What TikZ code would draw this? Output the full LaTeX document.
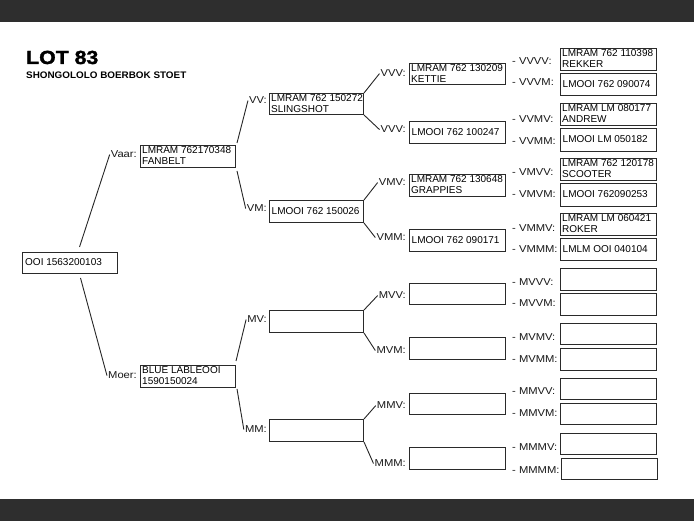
\documentclass[tikz,border=0pt]{standalone}
\usepackage{fontspec}
\setmainfont{Liberation Sans}
\newfontfamily\labfont[FakeStretch=1.12]{Liberation Sans}
\newfontfamily\titlefont[FakeStretch=1.12,FakeBold=1.6]{Liberation Sans Bold}
\newfontfamily\subfont[FakeStretch=1.04]{Liberation Sans Bold}
\usetikzlibrary{calc}
\definecolor{barcol}{HTML}{2E2E2E}
\definecolor{boxcol}{HTML}{2A2A2A}
\tikzset{
  pbox/.style={draw=boxcol, line width=1pt, anchor=north west, inner sep=0pt, fill=white},
  btxt/.style={anchor=base west, inner sep=0pt, font=\fontsize{10}{12}\selectfont, text=black},
  lab/.style={anchor=base east, inner sep=1pt, font=\labfont\fontsize{10}{12}\selectfont, text=black!90},
  labw/.style={anchor=base west, inner sep=0pt, font=\labfont\fontsize{10}{12}\selectfont, text=black!90},
  conn/.style={draw=black!85, line width=0.9pt}
}
\newcommand\pb[5]{\node[pbox, minimum width=#4pt, minimum height=#5pt] (#1) at (#2,#3) {};}
\newcommand\ptwo[3]{%
  \node[btxt] (#1a) at ($(#1.north west)+(2,9)$) {#2};
  \node[btxt] (#1b) at ($(#1.north west)+(2,20)$) {#3};}
\newcommand\pone[2]{\node[btxt] (#1a) at ($(#1.north west)+(2.5,14.5)$) {#2};}
\begin{document}
\begin{tikzpicture}[x=1pt,y=-1pt]
\useasboundingbox (0,0) rectangle (694,521);
\fill[white] (0,0) rectangle (694,521);
\fill[barcol] (0,0) rectangle (694,22);
\fill[barcol] (0,499) rectangle (694,521);
% title
\node[anchor=base west, inner sep=0pt, font=\titlefont\fontsize{19}{22}\selectfont] (title) at (26,64) {LOT 83};
\node[anchor=base west, inner sep=0pt, font=\subfont\fontsize{9.5}{11}\selectfont] (subtitle) at (26,78.5) {SHONGOLOLO BOERBOK STOET};
% boxes generation 0-2
\pb{root}{22}{252}{95}{21}
\pb{vaar}{140}{145}{95}{22}
\pb{moer}{140}{365}{95}{22}
\pb{vv}{269}{93}{94}{21}
\pb{vm}{269}{200}{94}{22}
\pb{mv}{269}{310}{94}{22}
\pb{mm}{269}{419}{94}{22}
% generation 3
\pb{vvv}{409}{63}{96}{21}
\pb{vvm}{409}{121}{96}{22}
\pb{vmv}{409}{174}{96}{22}
\pb{vmm}{409}{229}{96}{22}
\pb{mvv}{409}{283}{96}{21}
\pb{mvm}{409}{337}{96}{22}
\pb{mmv}{409}{393}{96}{21}
\pb{mmm}{409}{447}{96}{22}
% generation 4
\pb{vvvv}{560}{48}{96}{22}
\pb{vvvm}{560}{73}{96}{22}
\pb{vvmv}{560}{103}{96}{22}
\pb{vvmm}{560}{128}{96}{23}
\pb{vmvv}{560}{158}{96}{22}
\pb{vmvm}{560}{183}{96}{23}
\pb{vmmv}{560}{213}{96}{22}
\pb{vmmm}{560}{238}{96}{22}
\pb{mvvv}{560}{268}{96}{22}
\pb{mvvm}{560}{293}{96}{22}
\pb{mvmv}{560}{323}{96}{21}
\pb{mvmm}{560}{348}{96}{22}
\pb{mmvv}{560}{378}{96}{21}
\pb{mmvm}{560}{403}{96}{21}
\pb{mmmv}{560}{433}{96}{21}
\pb{mmmm}{561}{458}{96}{21}
% texts
\node[btxt] (roota) at ($(root.north west)+(3,14)$) {OOI 1563200103};
\ptwo{vaar}{LMRAM 762170348}{FANBELT}
\ptwo{moer}{BLUE LABLEOOI}{1590150024}
\ptwo{vv}{LMRAM 762 150272}{SLINGSHOT}
\pone{vm}{LMOOI 762 150026}
\ptwo{vvv}{LMRAM 762 130209}{KETTIE}
\pone{vvm}{LMOOI 762 100247}
\ptwo{vmv}{LMRAM 762 130648}{GRAPPIES}
\pone{vmm}{LMOOI 762 090171}
\ptwo{vvvv}{LMRAM 762 110398}{REKKER}
\pone{vvvm}{LMOOI 762 090074}
\ptwo{vvmv}{LMRAM LM 080177}{ANDREW}
\pone{vvmm}{LMOOI LM 050182}
\ptwo{vmvv}{LMRAM 762 120178}{SCOOTER}
\pone{vmvm}{LMOOI 762090253}
\ptwo{vmmv}{LMRAM LM 060421}{ROKER}
\pone{vmmm}{LMLM OOI 040104}
% labels generation 1-2
\node[lab] (vaarl) at (138,158) {Vaar:};
\node[lab] (moerl) at (138,379) {Moer:};
\node[lab] (vvl) at (268,104) {VV:};
\node[lab] (vml) at (268,212) {VM:};
\node[lab] (mvl) at (268,323) {MV:};
\node[lab] (mml) at (268,433) {MM:};
% labels generation 3
\node[lab] (vvvl) at (407,77) {VVV:};
\node[lab] (vvml) at (407,133) {VVV:};
\node[lab] (vmvl) at (407,186) {VMV:};
\node[lab] (vmml) at (407,241) {VMM:};
\node[lab] (mvvl) at (407,299) {MVV:};
\node[lab] (mvml) at (407,354) {MVM:};
\node[lab] (mmvl) at (407,409) {MMV:};
\node[lab] (mmml) at (407,467) {MMM:};
% labels generation 4
\node[labw] (vvvvl) at (512,65) {- VVVV:};
\node[labw] (vvvml) at (512,86) {- VVVM:};
\node[labw] (vvmvl) at (512,123) {- VVMV:};
\node[labw] (vvmml) at (512,145) {- VVMM:};
\node[labw] (vmvvl) at (512,176) {- VMVV:};
\node[labw] (vmvml) at (512,198) {- VMVM:};
\node[labw] (vmmvl) at (512,232) {- VMMV:};
\node[labw] (vmmml) at (512,253) {- VMMM:};
\node[labw] (mvvvl) at (512,286) {- MVVV:};
\node[labw] (mvvml) at (512,307) {- MVVM:};
\node[labw] (mvmvl) at (512,341) {- MVMV:};
\node[labw] (mvmml) at (512,363) {- MVMM:};
\node[labw] (mmvvl) at (512,395) {- MMVV:};
\node[labw] (mmvml) at (512,417) {- MMVM:};
\node[labw] (mmmvl) at (512,450) {- MMMV:};
\node[labw] (mmmml) at (512,473) {- MMMM:};
% connectors
\draw[conn] ($(root.north)+(9.5,-5)$) -- (vaarl.west);
\draw[conn] ($(root.south)+(10.5,4)$) -- (moerl.west);
\draw[conn] ($(vaar.north east)+(1,-2)$) -- (vvl.west);
\draw[conn] ($(vaar.south east)+(1,3)$) -- (vml.west);
\draw[conn] ($(moer.north east)+(0,-4)$) -- (mvl.west);
\draw[conn] ($(moer.south east)+(1,1)$) -- (mml.west);
\draw[conn] (vv.north east) -- (vvvl.west);
\draw[conn] (vv.south east) -- (vvml.west);
\draw[conn] (vm.north east) -- (vmvl.west);
\draw[conn] (vm.south east) -- (vmml.west);
\draw[conn] (mv.north east) -- (mvvl.west);
\draw[conn] (mv.south east) -- (mvml.west);
\draw[conn] (mm.north east) -- (mmvl.west);
\draw[conn] (mm.south east) -- (mmml.west);
\end{tikzpicture}
\end{document}
